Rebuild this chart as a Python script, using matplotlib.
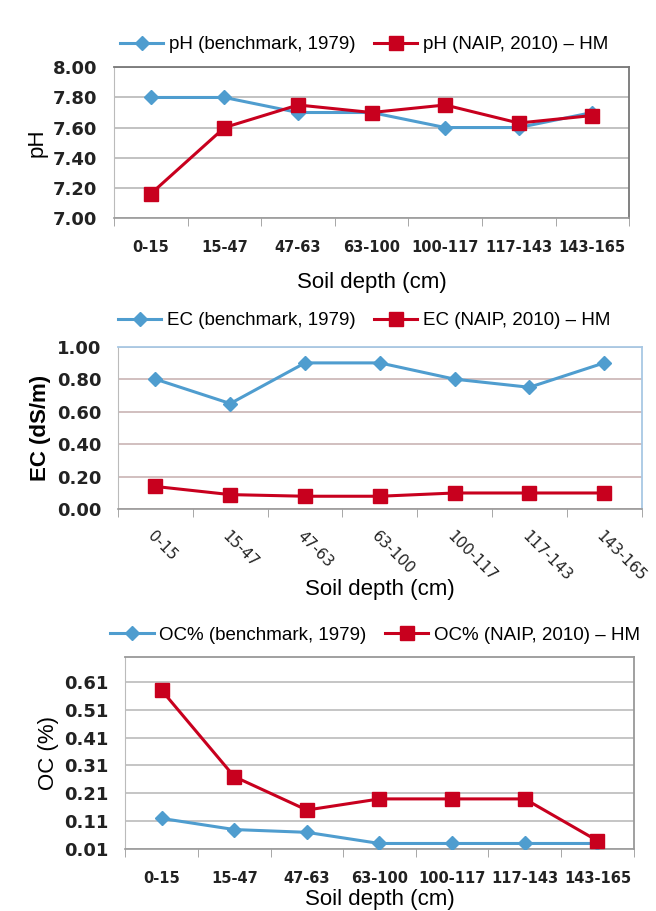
import matplotlib.pyplot as plt
import numpy as np

depths = ["0-15", "15-47", "47-63", "63-100", "100-117", "117-143", "143-165"]

ph_bench = [7.80, 7.80, 7.70, 7.70, 7.60, 7.60, 7.70]
ph_naip = [7.16, 7.60, 7.75, 7.70, 7.75, 7.63, 7.68]

ec_bench = [0.80, 0.65, 0.90, 0.90, 0.80, 0.75, 0.90]
ec_naip = [0.14, 0.09, 0.08, 0.08, 0.10, 0.10, 0.10]

oc_bench = [0.12, 0.08, 0.07, 0.03, 0.03, 0.03, 0.03]
oc_naip = [0.58, 0.27, 0.15, 0.19, 0.19, 0.19, 0.04]

BLUE = "#4f9dcf"
RED = "#c8001e"
ARIAL = ["Liberation Sans", "DejaVu Sans"]

fig = plt.figure(figsize=(6.56, 9.11), dpi=100, facecolor="white")

x = np.arange(len(depths))


def panel(rect, bench, naip, names, ylim, yticks, ylabel, ylab_weight,
          frame_col, grid_col, rot, leg_xy, leg_size):
	ax = fig.add_axes(rect)
	ax.set_facecolor("white")
	l1, = ax.plot(x, bench, color=BLUE, lw=2.2, marker="D", ms=7,
				  mfc=BLUE, mec=BLUE, zorder=3)
	l2, = ax.plot(x, naip, color=RED, lw=2.2, marker="s", ms=10,
				  mfc=RED, mec=RED, zorder=4)
	ax.set_xlim(-0.5, len(depths) - 0.5)
	ax.set_ylim(*ylim)
	ax.set_yticks(yticks)
	ax.set_yticklabels(["%.2f" % v for v in yticks], fontsize=13,
					   fontweight="bold", color="#222222")
	ax.yaxis.set_tick_params(length=0, pad=12)
	ax.set_xticks(x)
	if rot:
		ax.set_xticklabels(depths, fontsize=11, color="#222222",
						   rotation=-45, ha="left", rotation_mode="anchor")
		ax.xaxis.set_tick_params(length=0, pad=14)
	else:
		ax.set_xticklabels(depths, fontsize=10.5, fontweight="bold",
						   color="#222222")
		ax.xaxis.set_tick_params(length=0, pad=16)
	ax.set_xticks(np.arange(-0.5, len(depths)), minor=True)
	ax.tick_params(axis="x", which="minor", length=6, color="#999999",
				   direction="out")
	ax.grid(axis="y", color=grid_col, lw=1.2)
	for s in ["top", "right"]:
		ax.spines[s].set_color(frame_col)
		ax.spines[s].set_linewidth(1.3)
	ax.spines["left"].set_color("#bbbbbb")
	ax.spines["bottom"].set_color("#999999")
	ax.spines["bottom"].set_linewidth(1.2)
	ax.set_ylabel(ylabel, fontsize=16, fontweight=ylab_weight,
				  family=ARIAL, labelpad=4)
	ax.set_xlabel("Soil depth (cm)", fontsize=16, family=ARIAL)
	fig.legend([l1, l2], names, loc="center", bbox_to_anchor=leg_xy,
			   ncol=2, frameon=False, prop={"family": ARIAL, "size": leg_size},
			   handlelength=2.3, columnspacing=1.0, handletextpad=0.3)
	return ax


ax1 = panel([0.174, 0.761, 0.785, 0.165], ph_bench, ph_naip,
			["pH (benchmark, 1979)", "pH (NAIP, 2010) \u2013 HM"],
			(7.0, 8.0), [7.0, 7.2, 7.4, 7.6, 7.8, 8.0], "pH", "normal",
			"#777777", "#b8b8b8", False, (0.555, 0.951), 13.5)
ax1.xaxis.labelpad = 12

ax2 = panel([0.180, 0.441, 0.798, 0.1785], ec_bench, ec_naip,
			["EC (benchmark, 1979)", "EC (NAIP, 2010) \u2013 HM"],
			(0.0, 1.0), [0.0, 0.2, 0.4, 0.6, 0.8, 1.0], "EC (dS/m)", "bold",
			"#a8c8e4", "#c9b4b4", True, (0.555, 0.648), 13.5)
ax2.xaxis.labelpad = -4

ax3 = panel([0.191, 0.068, 0.775, 0.211], oc_bench, oc_naip,
			["OC% (benchmark, 1979)", "OC% (NAIP, 2010) \u2013 HM"],
			(0.01, 0.70), [0.01, 0.11, 0.21, 0.31, 0.41, 0.51, 0.61], "OC (%)",
			"normal", "#999999", "#bbbbbb", False, (0.572, 0.303), 13.5)
ax3.xaxis.labelpad = 2

fig.savefig("out.png", dpi=100, facecolor="white")
